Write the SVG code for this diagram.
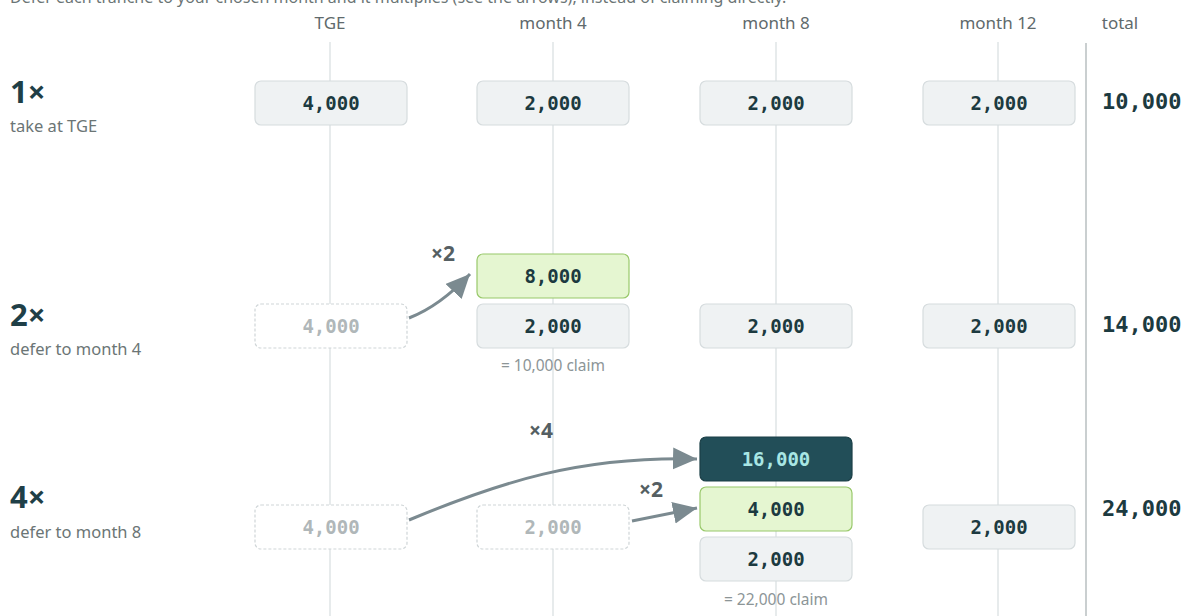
<svg xmlns="http://www.w3.org/2000/svg" width="1200" height="616" viewBox="0 0 1200 616">
<defs>
<style>
.hdr{font-family:"Noto Sans","Open Sans",sans-serif;font-size:17px;fill:#5f6a6c;text-anchor:middle}
.mult{font-family:"Noto Sans","Open Sans",sans-serif;font-size:31px;font-weight:700;fill:#1f3f47}
.sub{font-family:"Noto Sans","Open Sans",sans-serif;font-size:16.5px;fill:#6b7575}
.box{fill:#eff2f3;stroke:#d6dcde;stroke-width:1.2}
.ghost{fill:#ffffff;stroke:#cfd5d7;stroke-width:1.2;stroke-dasharray:3 2}
.green{fill:#e5f6d1;stroke:#98c86a;stroke-width:1.2}
.dark{fill:#224e58;stroke:#1b3f47;stroke-width:1.2}
.num{font-family:"DejaVu Sans Mono","Liberation Mono",monospace;font-size:19px;font-weight:700;fill:#1c3a40;text-anchor:middle}
.gnum{fill:#b0b7b9}
.lnum{fill:#a8e6e4}
.tot{font-family:"DejaVu Sans Mono","Liberation Mono",monospace;font-size:22px;font-weight:700;fill:#1c3a40}
.claim{font-family:"Noto Sans","Open Sans",sans-serif;font-size:15.5px;fill:#8c9597;text-anchor:middle}
.xl{font-family:"Noto Sans","Open Sans",sans-serif;font-size:21px;font-weight:700;fill:#555f63;text-anchor:middle}
.grid{stroke:#dfe4e6;stroke-width:1.5}
.arr{fill:none;stroke:#7b8a90;stroke-width:3}
</style>
<marker id="ah" markerUnits="userSpaceOnUse" markerWidth="26" markerHeight="24" refX="24" refY="11" orient="auto">
<path d="M0,0 L24,11 L0,22 Z" fill="#7b8a90"/>
</marker>
</defs>
<rect width="1200" height="616" fill="#ffffff"/>
<text x="10" y="3" font-family="Noto Sans, sans-serif" font-size="16" fill="#6b7575">Defer each tranche to your chosen month and it multiplies (see the arrows), instead of claiming directly.</text>
<g id="grid">
<line class="grid" x1="330" y1="42" x2="330" y2="616"/>
<line class="grid" x1="553" y1="42" x2="553" y2="616"/>
<line class="grid" x1="776" y1="42" x2="776" y2="616"/>
<line class="grid" x1="998" y1="42" x2="998" y2="616"/>
<line x1="1086" y1="43" x2="1086" y2="616" stroke="#b9bfc1" stroke-width="1.5"/>
</g>
<g id="headers">
<text class="hdr" x="330" y="29">TGE</text>
<text class="hdr" x="553" y="29">month 4</text>
<text class="hdr" x="776" y="29">month 8</text>
<text class="hdr" x="998" y="29">month 12</text>
<text class="hdr" x="1120" y="29">total</text>
</g>
<g id="row1-label"><text class="mult" x="10" y="103">1×</text><text class="sub" x="10" y="132">take at TGE</text></g>
<g id="row2-label"><text class="mult" x="10" y="326">2×</text><text class="sub" x="10" y="355">defer to month 4</text></g>
<g id="row3-label"><text class="mult" x="10" y="508">4×</text><text class="sub" x="10" y="538">defer to month 8</text></g>

<g id="r1-tge"><rect class="box" x="255" y="81" width="152" height="44" rx="6"/><text class="num" x="331" y="110">4,000</text></g>
<g id="r1-m4"><rect class="box" x="477" y="81" width="152" height="44" rx="6"/><text class="num" x="553" y="110">2,000</text></g>
<g id="r1-m8"><rect class="box" x="700" y="81" width="152" height="44" rx="6"/><text class="num" x="776" y="110">2,000</text></g>
<g id="r1-m12"><rect class="box" x="923" y="81" width="152" height="44" rx="6"/><text class="num" x="999" y="110">2,000</text></g>
<g id="r1-total"><text class="tot" x="1102" y="109">10,000</text></g>

<g id="r2-tge"><rect class="ghost" x="255" y="304" width="152" height="44" rx="6"/><text class="num gnum" x="331" y="333">4,000</text></g>
<g id="r2-m4-bonus"><rect class="green" x="477" y="254" width="152" height="44" rx="6"/><text class="num" x="553" y="283">8,000</text></g>
<g id="r2-m4"><rect class="box" x="477" y="304" width="152" height="44" rx="6"/><text class="num" x="553" y="333">2,000</text><text class="claim" x="553" y="371">= 10,000 claim</text></g>
<g id="r2-m8"><rect class="box" x="700" y="304" width="152" height="44" rx="6"/><text class="num" x="776" y="333">2,000</text></g>
<g id="r2-m12"><rect class="box" x="923" y="304" width="152" height="44" rx="6"/><text class="num" x="999" y="333">2,000</text></g>
<g id="r2-total"><text class="tot" x="1102" y="332">14,000</text></g>

<g id="r3-tge"><rect class="ghost" x="255" y="505" width="152" height="44" rx="6"/><text class="num gnum" x="331" y="534">4,000</text></g>
<g id="r3-m4"><rect class="ghost" x="477" y="505" width="152" height="44" rx="6"/><text class="num gnum" x="553" y="534">2,000</text></g>
<g id="r3-m8-x4"><rect class="dark" x="700" y="437" width="152" height="44" rx="6"/><text class="num lnum" x="776" y="466">16,000</text></g>
<g id="r3-m8-x2"><rect class="green" x="700" y="487" width="152" height="44" rx="6"/><text class="num" x="776" y="516">4,000</text></g>
<g id="r3-m8"><rect class="box" x="700" y="537" width="152" height="44" rx="6"/><text class="num" x="776" y="566">2,000</text><text class="claim" x="776" y="605">= 22,000 claim</text></g>
<g id="r3-m12"><rect class="box" x="923" y="505" width="152" height="44" rx="6"/><text class="num" x="999" y="534">2,000</text></g>
<g id="r3-total"><text class="tot" x="1102" y="516">24,000</text></g>

<g id="connectors">
<path class="arr" d="M409,318 Q440,306 470,274" marker-end="url(#ah)"/>
<text class="xl" x="443" y="261">×2</text>
<path class="arr" d="M409,520 C500,482 580,456 697,459" marker-end="url(#ah)"/>
<text class="xl" x="541" y="438">×4</text>
<path class="arr" d="M632,521 L697,508" marker-end="url(#ah)"/>
<text class="xl" x="651" y="497">×2</text>
</g>
</svg>
